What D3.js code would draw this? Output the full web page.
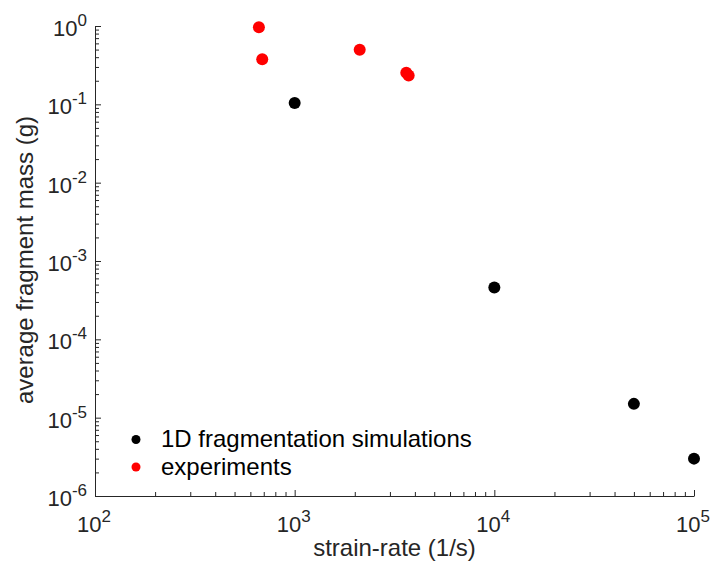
<!doctype html>
<html>
<head>
<meta charset="utf-8">
<script src="https://cdn.jsdelivr.net/npm/d3@7"></script>
<style>
  html, body { margin: 0; padding: 0; background: #fff; }
  svg { display: block; }
</style>
</head>
<body>
<script>
// --- data ---
const simStrainRate = [1000, 10000, 50000, 100000];
const simMass = [0.104, 4.6e-4, 1.5e-5, 3.0e-6];

const expStrainRate = [662, 688, 2117, 3622, 3723];
const expMass = [0.962, 0.375, 0.497, 0.253, 0.234];

const xTickExponents = [2, 3, 4, 5];
const yTickExponents = [0, -1, -2, -3, -4, -5, -6];

const seriesNames = ["1D fragmentation simulations", "experiments"];
const seriesColors = ["#000000", "#ff0000"];

const width = 713;
const height = 561;
const margin = { top: 26, right: 19, bottom: 65, left: 95 };
const FONT = "'Liberation Sans', Arial, Helvetica, sans-serif";
const INK = "#262626";

const x = d3.scaleLog()
  .domain([1e2, 1e5])
  .range([margin.left, width - margin.right]);

const y = d3.scaleLog()
  .domain([1e-6, 1e0])
  .range([height - margin.bottom, margin.top]);

// minor ticks 2..9 of each decade
function minorTicks(lo, hi) {
  const out = [];
  for (let e = lo; e < hi; e++) {
    for (let m = 2; m <= 9; m++) out.push(m * Math.pow(10, e));
  }
  return out;
}

const svg = d3.select("body")
  .append("svg")
  .attr("width", width)
  .attr("height", height)
  .style("font-family", FONT);

svg.append("rect").attr("width", width).attr("height", height).attr("fill", "white");

// X axis (ticks pointing inward, MATLAB style)
const gx = svg.append("g").attr("transform", `translate(0,${height - margin.bottom})`);
gx.call(d3.axisBottom(x).tickValues(xTickExponents.map((e) => Math.pow(10, e)))
  .tickSizeInner(-6).tickSizeOuter(0).tickFormat(""));
gx.append("g").call(d3.axisBottom(x).tickValues(minorTicks(2, 5))
  .tickSizeInner(-4).tickSizeOuter(0).tickFormat(""))
  .call((g) => g.select(".domain").remove());
gx.selectAll("path, line").attr("stroke", INK).attr("stroke-width", 1);

// Y axis
const gy = svg.append("g").attr("transform", `translate(${margin.left},0)`);
gy.call(d3.axisLeft(y).tickValues(yTickExponents.map((e) => Math.pow(10, e)))
  .tickSizeInner(-6).tickSizeOuter(0).tickFormat(""));
gy.append("g").call(d3.axisLeft(y).tickValues(minorTicks(-6, 0))
  .tickSizeInner(-4).tickSizeOuter(0).tickFormat(""))
  .call((g) => g.select(".domain").remove());
gy.selectAll("path, line").attr("stroke", INK).attr("stroke-width", 1);

// power-of-ten tick labels
function powerLabel(sel, e) {
  sel.append("tspan").text("10");
  sel.append("tspan").attr("font-size", 17).attr("dy", -10).text(e);
}

svg.append("g")
  .selectAll("text")
  .data(xTickExponents)
  .join("text")
  .attr("x", (e) => x(Math.pow(10, e)) - 18)
  .attr("y", height - margin.bottom + 36)
  .attr("font-size", 22)
  .attr("fill", INK)
  .each(function (e) { powerLabel(d3.select(this), e); });

svg.append("g")
  .selectAll("text")
  .data(yTickExponents)
  .join("text")
  .attr("x", margin.left - 8)
  .attr("y", (e) => y(Math.pow(10, e)) + 10)
  .attr("text-anchor", "end")
  .attr("font-size", 22)
  .attr("fill", INK)
  .each(function (e) { powerLabel(d3.select(this), e); });

// axis titles
svg.append("text")
  .attr("x", (margin.left + width - margin.right) / 2)
  .attr("y", height - 5)
  .attr("text-anchor", "middle")
  .attr("font-size", 24)
  .attr("fill", INK)
  .text("strain-rate (1/s)");

svg.append("text")
  .attr("transform", `translate(33,${(margin.top + height - margin.bottom) / 2 - 1}) rotate(-90)`)
  .attr("text-anchor", "middle")
  .attr("font-size", 24)
  .attr("fill", INK)
  .text("average fragment mass (g)");

// points
const sim = simStrainRate.map((v, i) => ({ x: v, y: simMass[i] }));
const exp = expStrainRate.map((v, i) => ({ x: v, y: expMass[i] }));

svg.append("g")
  .selectAll("circle")
  .data(sim)
  .join("circle")
  .attr("cx", (d) => x(d.x))
  .attr("cy", (d) => y(d.y))
  .attr("r", 6)
  .attr("fill", seriesColors[0]);

svg.append("g")
  .selectAll("circle")
  .data(exp)
  .join("circle")
  .attr("cx", (d) => x(d.x))
  .attr("cy", (d) => y(d.y))
  .attr("r", 6)
  .attr("fill", seriesColors[1]);

// legend
const legend = svg.append("g").attr("transform", "translate(136,439.5)");
const item = legend.selectAll("g")
  .data(seriesNames)
  .join("g")
  .attr("transform", (d, i) => `translate(0,${i * 27.5})`);
item.append("circle").attr("r", 4.5).attr("fill", (d, i) => seriesColors[i]);
item.append("text")
  .attr("x", 25)
  .attr("y", 7.5)
  .attr("font-size", 24)
  .attr("fill", "#000")
  .text((d) => d);
</script>
</body>
</html>
